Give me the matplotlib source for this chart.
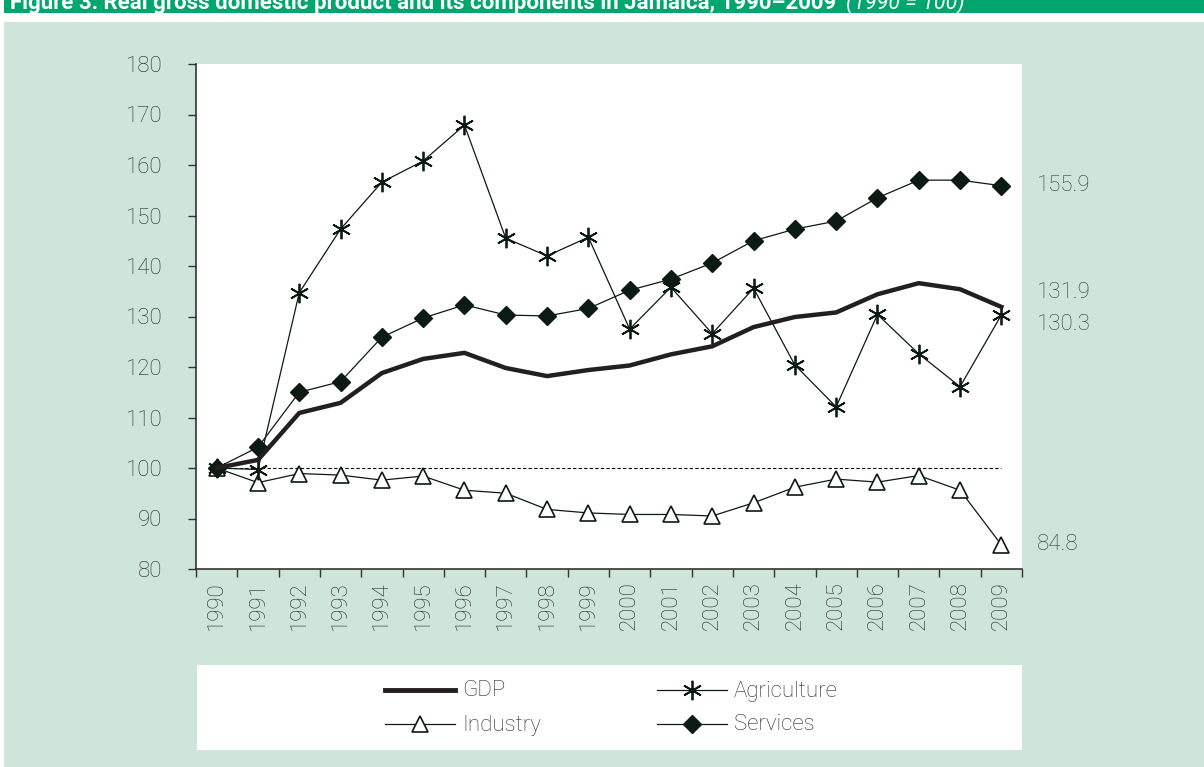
import matplotlib
matplotlib.use("Agg")
import matplotlib.pyplot as plt
from matplotlib.patches import Rectangle

plt.rcParams['font.family'] = ['Roboto', 'DejaVu Sans']

# Data (1990 = 100)
years = [str(y) for y in range(1990, 2010)]
gdp = [100, 101.6, 110.9, 112.9, 118.8, 121.6, 122.8, 119.8, 118.2, 119.4,
       120.3, 122.5, 124.1, 127.9, 129.9, 130.8, 134.4, 136.6, 135.4, 131.9]
agriculture = [100, 99.7, 134.7, 147.3, 156.6, 160.8, 167.9, 145.5, 142.0, 145.7,
               127.5, 135.8, 126.6, 135.6, 120.4, 112.1, 130.4, 122.6, 116.1, 130.3]
industry = [100, 97.1, 98.9, 98.6, 97.6, 98.4, 95.6, 95.0, 91.8, 91.1,
            90.8, 90.8, 90.5, 93.1, 96.2, 97.8, 97.2, 98.5, 95.6, 84.8]
services = [100, 104.1, 115.0, 117.1, 125.9, 129.7, 132.3, 130.3, 130.1, 131.6,
            135.2, 137.4, 140.6, 145.0, 147.3, 148.9, 153.5, 157.0, 157.0, 155.9]
baseline = [100] * len(years)

W, H = 1204, 767
fig = plt.figure(figsize=(W / 100, H / 100), dpi=100)
fig.patch.set_facecolor("white")

# Panel background and title band
fig.patches.append(Rectangle((4 / W, 0), 1, 1 - 22 / H, transform=fig.transFigure,
                             facecolor="#cde6d9", edgecolor="none", zorder=-10))
fig.patches.append(Rectangle((4 / W, 1 - 13 / H), 1, 13 / H, transform=fig.transFigure,
                             facecolor="#00a66e", edgecolor="none", zorder=-10))
t1 = fig.text(10 / W, 1 - 9 / H,
              "Figure 3: Real gross domestic product and its components in Jamaica, 1990\u20132009",
              color="white", fontsize=16, fontweight="bold", va="baseline", ha="left")
# squeeze the bold part into the width seen in the reference
r = fig.canvas.get_renderer()
bw = t1.get_window_extent(r).width
t1.set_fontsize(16 * 830 / bw)
fig.text(846 / W, 1 - 9 / H, "(1990 = 100)", color="white", fontsize=15.5,
         style="italic", va="baseline", ha="left")

# Legend box
fig.patches.append(Rectangle((197 / W, 1 - 750 / H), (1022 - 197) / W, (750 - 665) / H,
                             transform=fig.transFigure, facecolor="white",
                             edgecolor="none", zorder=-5))

ax = fig.add_axes([196 / W, 1 - 569 / H, (1022 - 196) / W, (569 - 64) / H])
ax.set_facecolor("white")

x = range(len(years))
ink = "#0b1a12"
ax.plot(x, baseline, color="black", lw=0.8, ls=(0, (3, 2)), zorder=1)
ax.plot(x, industry, color=ink, lw=0.9, marker="^", markersize=11,
        markerfacecolor="white", markeredgecolor=ink, markeredgewidth=1.2, zorder=2)
ax.plot(x, agriculture, color=ink, lw=0.9, marker=(6, 2, 0), markersize=14,
        markeredgewidth=1.3, markeredgecolor=ink, zorder=3)
ax.plot(x, services, color=ink, lw=0.9, marker="D", markersize=9,
        markerfacecolor=ink, markeredgecolor=ink, zorder=4)
ax.plot(x, gdp, color="#231f20", lw=3.2, zorder=5)

ax.set_xlim(-0.5, len(years) - 0.5)
ax.set_ylim(80, 180)
ax.set_yticks(range(80, 181, 10))
ax.set_xticks([i - 0.5 for i in range(len(years) + 1)], minor=False)
ax.set_xticklabels([])
ax.set_xticks(list(x), minor=True)
ax.set_xticklabels(years, minor=True, rotation=90, fontsize=16, color="#2b2b2b",
                   fontweight="light")
ax.tick_params(axis="x", which="minor", length=0, pad=9)
ax.tick_params(axis="x", which="major", length=6, width=1, color="#333333", direction="out")
ax.tick_params(axis="y", length=6, width=1, color="#333333", labelsize=16,
               labelcolor="#2b2b2b", pad=18)
for lab in ax.get_yticklabels():
    lab.set_fontweight("light")
for s in ["top", "right"]:
    ax.spines[s].set_visible(False)
for s in ["left", "bottom"]:
    ax.spines[s].set_color("#333333")
    ax.spines[s].set_linewidth(1.2)

# End-value labels
ends = [(services[-1], 0), (gdp[-1], 2.8), (agriculture[-1], -1.8), (industry[-1], 0)]
for val, nudge in ends:
    ax.text(19.85, val + nudge, f"{val:.1f}", fontsize=16, color="#3a3a3a",
            va="center", ha="left", clip_on=False, fontweight="light")

# Legend, drawn in pixel coordinates of the white box
lg = fig.add_axes([0, 0, 1, 1], zorder=-1)
lg.set_xlim(0, W)
lg.set_ylim(H, 0)
lg.axis("off")
entries = [
    ("GDP", 385, 690, dict(color="#231f20", lw=3.5)),
    ("Agriculture", 657, 690, dict(color=ink, lw=0.9, marker=(6, 2, 0), markersize=14,
                                   markeredgewidth=1.3)),
    ("Industry", 385, 724, dict(color=ink, lw=0.9, marker="^", markersize=11,
                                markerfacecolor="white", markeredgecolor=ink,
                                markeredgewidth=1.2)),
    ("Services", 657, 724, dict(color=ink, lw=0.9, marker="D", markersize=9,
                                markerfacecolor=ink)),
]
for name, x0, y0, style in entries:
    lg.plot([x0, x0 + 35, x0 + 70], [y0, y0, y0], markevery=[1], **style)
    lg.text(x0 + 77, y0 + 1, name, fontsize=16, color="#2b2b2b", va="center", ha="left",
            fontweight="light")

fig.savefig("out.png", dpi=100)
